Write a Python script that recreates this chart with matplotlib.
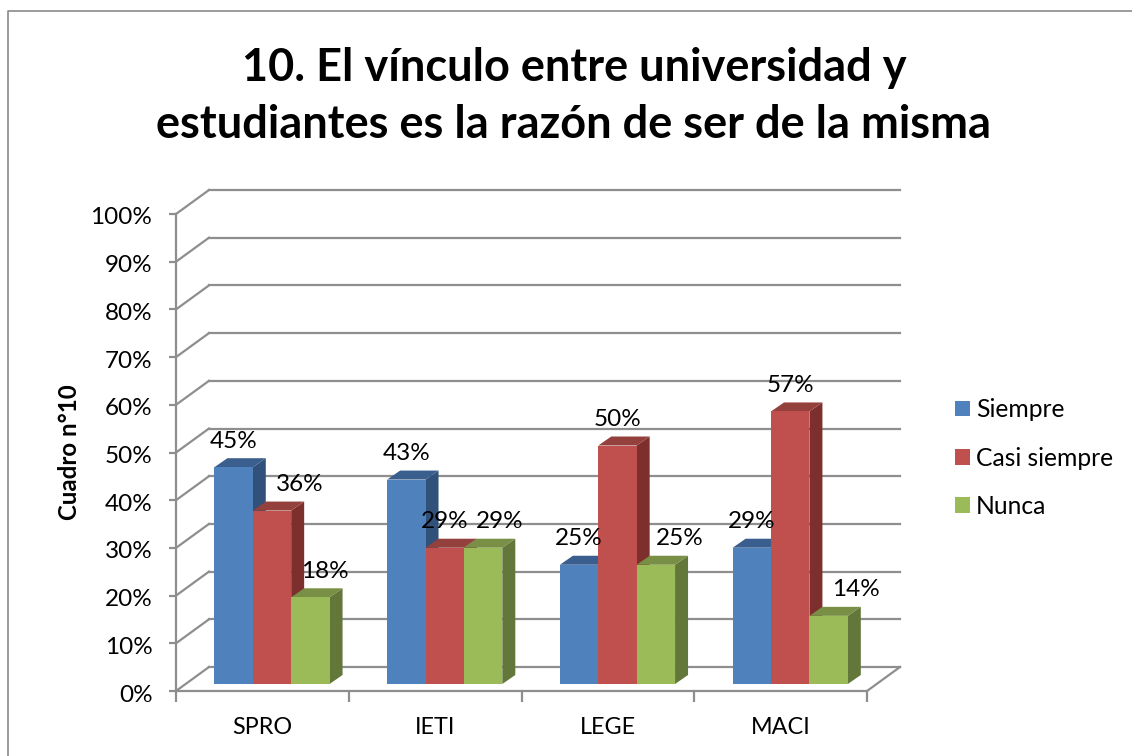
import matplotlib
matplotlib.use('Agg')
import matplotlib.pyplot as plt
from matplotlib.patches import Patch
from matplotlib.transforms import ScaledTranslation

plt.rcParams['font.family'] = ['Lato', 'DejaVu Sans']

categories = ['SPRO', 'IETI', 'LEGE', 'MACI']
series_names = ['Siempre', 'Casi siempre', 'Nunca']
siempre = [45.45, 42.86, 25.0, 28.57]
casi_siempre = [36.36, 28.57, 50.0, 57.14]
nunca = [18.18, 28.57, 25.0, 14.29]
y_ticks = [0, 10, 20, 30, 40, 50, 60, 70, 80, 90, 100]

W, H = 1132, 756
DPI = 100
GREY = '#8e8e8e'

# (front colour, top colour, side colour)
colours = [('#4f81bd', '#3a5f8e', '#31507a'),
           ('#c0504d', '#94403d', '#7d2f2d'),
           ('#9bbb59', '#788f45', '#64773a')]

# label shift to the right of the bar centre, px
label_dx = [[0, 0, 0, 0],
            [28, 0, 0, 0],
            [14, 17, 24, 27]]

fig = plt.figure(figsize=(W / DPI, H / DPI), dpi=DPI)
ax = fig.add_axes([176 / W, 1 - 691 / H, (867 - 176) / W, (691 - 214) / H])
ax.set_xlim(0, 4)
ax.set_ylim(0, 100)
ax.patch.set_alpha(0)

px_x = 4 / (867 - 176)
px_y = 100 / (691 - 214)


def shift(dx, dy):
    return ax.transData + ScaledTranslation(dx / DPI, dy / DPI, fig.dpi_scale_trans)


# walls and floor
wall_dx, wall_dy = 33, 24
for t in y_ticks:
    ax.plot([0, 4], [t, t], color=GREY, lw=1.6, transform=shift(wall_dx, wall_dy),
            clip_on=False, zorder=1)
    ax.plot([0, wall_dx * px_x], [t, t + wall_dy * px_y], color=GREY, lw=1.6,
            clip_on=False, zorder=1)
ax.plot([4, 4 + wall_dx * px_x], [0, wall_dy * px_y], color=GREY, lw=1.6,
        clip_on=False, zorder=1)

# bars, drawn as front face plus side and top
bar_w = 1 / 4.5
depth_x, depth_y = 13 * px_x, 9 * px_y
base = shift(9.6, 7)
for s, vals in enumerate([siempre, casi_siempre, nunca]):
    front, top, side = colours[s]
    for c, v in enumerate(vals):
        x0 = c + 0.5 + (s - 1.5) * bar_w
        x1 = x0 + bar_w
        z = 3 + s
        ax.fill([x1, x1 + depth_x, x1 + depth_x, x1], [0, depth_y, v + depth_y, v],
                color=side, lw=0, transform=base, clip_on=False, zorder=z)
        ax.fill([x0, x1, x1 + depth_x, x0 + depth_x], [v, v, v + depth_y, v + depth_y],
                color=top, lw=0, transform=base, clip_on=False, zorder=z)
        ax.bar(x0, v, width=bar_w, align='edge', color=front, lw=0,
               transform=base, clip_on=False, zorder=z)

# data labels
for s, vals in enumerate([siempre, casi_siempre, nunca]):
    for c, v in enumerate(vals):
        x = c + 0.5 + (s - 1) * bar_w
        dx = 9.6 + label_dx[s][c]
        ax.annotate('{:.0f}%'.format(v), (x, v), xytext=(dx * 0.72, (7 + 26) * 0.72),
                    textcoords='offset points', ha='center', va='center',
                    fontsize=17.5, color='black', zorder=10, annotation_clip=False)

for side in ['top', 'right']:
    ax.spines[side].set_visible(False)
for side in ['left', 'bottom']:
    ax.spines[side].set_color(GREY)
    ax.spines[side].set_linewidth(1.6)
    ax.spines[side].set_zorder(2)

ax.set_yticks(y_ticks)
ax.set_yticklabels(['{}%'.format(t) for t in y_ticks])
ax.set_xticks(range(5))
ax.set_xticklabels([])
ax.set_xticks([i + 0.5 for i in range(4)], minor=True)
ax.set_xticklabels(categories, minor=True)
ax.tick_params(axis='y', length=5, width=1.6, color=GREY, labelsize=17.5, pad=12)
ax.tick_params(axis='x', which='major', length=8, width=1.6, color=GREY)
ax.tick_params(axis='x', which='minor', length=0, labelsize=16.8, pad=19)
for lab in ax.get_yticklabels():
    lab.set_transform(lab.get_transform() + ScaledTranslation(0, -2 / DPI, fig.dpi_scale_trans))

ax.set_ylabel('Cuadro n°10', fontsize=17.3, fontweight='bold')
ax.yaxis.set_label_coords((81 - 176) / (867 - 176), 0.5)

fig.text(574 / W, 1 - 96.5 / H, '10. El vínculo entre universidad y\nestudiantes es la razón de ser de la misma',
         ha='center', va='center', fontsize=32.5, fontweight='bold', linespacing=1.42)

handles = [Patch(color=colours[i][0], lw=0) for i in range(3)]
fig.legend(handles, series_names, loc='center left', bbox_to_anchor=(933 / W, 1 - 458 / H),
           frameon=False, fontsize=17.7, handlelength=0.6, handleheight=0.6,
           handletextpad=0.25, labelspacing=1.03)

# chart border
fig.add_artist(plt.Line2D([8 / W, 8 / W, 1], [0, 1 - 11 / H, 1 - 11 / H],
                          color='#8a8a8a', lw=1.2))

fig.savefig('out.png', dpi=DPI)
